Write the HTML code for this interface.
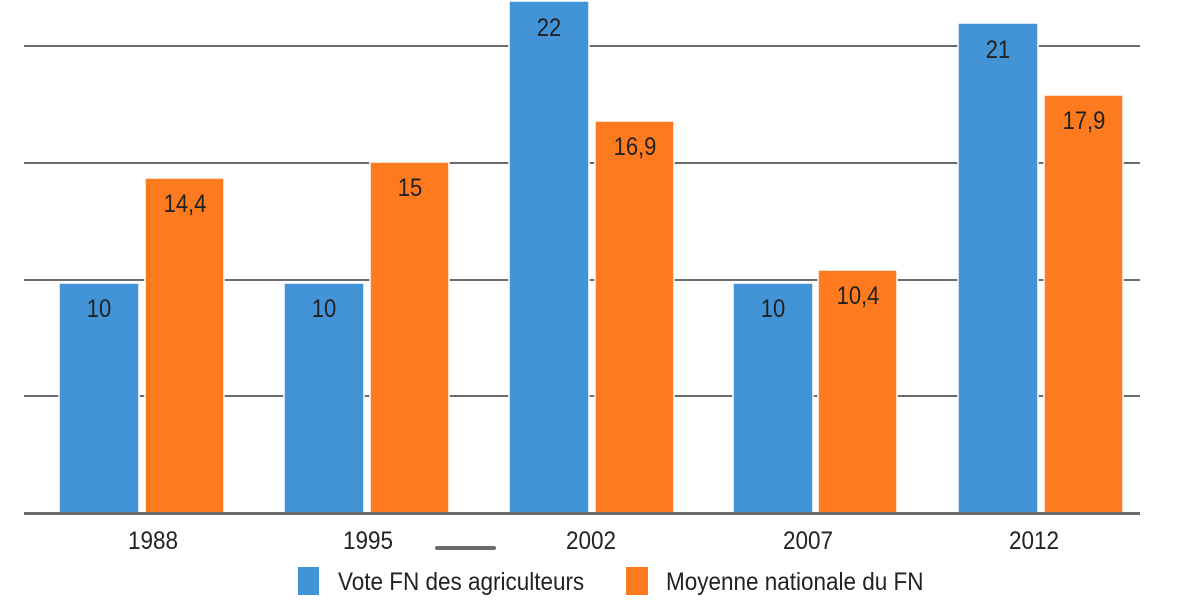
<!DOCTYPE html>
<html><head><meta charset="utf-8"><style>
html,body{margin:0;padding:0;background:#fff;}
svg{display:block;}
text{font-family:"Liberation Sans",sans-serif;fill:#222;}
</style></head><body>
<svg width="1189" height="605" viewBox="0 0 1189 605" xmlns="http://www.w3.org/2000/svg">
<g fill="#6b6b6d">
<rect x="24" y="45" width="1116" height="2"/>
<rect x="24" y="162" width="1116" height="2"/>
<rect x="24" y="279" width="1116" height="2"/>
<rect x="24" y="395" width="1116" height="2"/>
</g>
<g stroke="#fff" stroke-width="1.5">
<rect x="59" y="283" width="80" height="231" fill="#4394d6"/>
<rect x="145" y="178" width="79" height="336" fill="#fd7a1e"/>
<rect x="284" y="283" width="80" height="231" fill="#4394d6"/>
<rect x="370" y="162" width="79" height="352" fill="#fd7a1e"/>
<rect x="509" y="1" width="80" height="513" fill="#4394d6"/>
<rect x="595" y="121" width="79" height="393" fill="#fd7a1e"/>
<rect x="733" y="283" width="80" height="231" fill="#4394d6"/>
<rect x="818" y="270" width="79" height="244" fill="#fd7a1e"/>
<rect x="958" y="23" width="80" height="491" fill="#4394d6"/>
<rect x="1044" y="95" width="79" height="419" fill="#fd7a1e"/>
</g>
<rect x="24" y="512" width="1116" height="3" fill="#6b6b6d"/>
<g font-size="25" text-anchor="middle">
<text x="99" y="317" transform="translate(99 0) scale(0.88 1) translate(-99 0)">10</text>
<text x="185" y="212" transform="translate(185 0) scale(0.88 1) translate(-185 0)">14,4</text>
<text x="324" y="317" transform="translate(324 0) scale(0.88 1) translate(-324 0)">10</text>
<text x="410" y="196" transform="translate(410 0) scale(0.88 1) translate(-410 0)">15</text>
<text x="549" y="36" transform="translate(549 0) scale(0.88 1) translate(-549 0)">22</text>
<text x="635" y="155" transform="translate(635 0) scale(0.88 1) translate(-635 0)">16,9</text>
<text x="773" y="317" transform="translate(773 0) scale(0.88 1) translate(-773 0)">10</text>
<text x="858" y="304" transform="translate(858 0) scale(0.88 1) translate(-858 0)">10,4</text>
<text x="998" y="58" transform="translate(998 0) scale(0.88 1) translate(-998 0)">21</text>
<text x="1084" y="129" transform="translate(1084 0) scale(0.88 1) translate(-1084 0)">17,9</text>
</g>
<g font-size="25" text-anchor="middle">
<text x="153" y="549" transform="translate(153 0) scale(0.9 1) translate(-153 0)">1988</text>
<text x="368" y="549" transform="translate(368 0) scale(0.9 1) translate(-368 0)">1995</text>
<text x="591" y="549" transform="translate(591 0) scale(0.9 1) translate(-591 0)">2002</text>
<text x="808" y="549" transform="translate(808 0) scale(0.9 1) translate(-808 0)">2007</text>
<text x="1034" y="549" transform="translate(1034 0) scale(0.9 1) translate(-1034 0)">2012</text>
</g>
<line x1="437" y1="548" x2="494" y2="548" stroke="#6b6b6d" stroke-width="4" stroke-linecap="round"/>
<rect x="298" y="567" width="21" height="28" fill="#4394d6"/>
<rect x="626" y="567" width="22" height="28" fill="#fd7a1e"/>
<g font-size="25">
<text x="338" y="590" transform="translate(338 0) scale(0.9 1) translate(-338 0)">Vote FN des agriculteurs</text>
<text x="666" y="590" transform="translate(666 0) scale(0.9 1) translate(-666 0)">Moyenne nationale du FN</text>
</g>
</svg>
</body></html>
